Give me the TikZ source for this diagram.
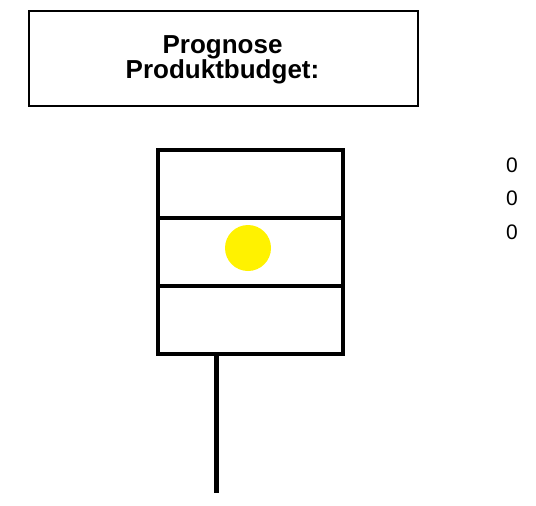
\documentclass[tikz,border=0pt]{standalone}
\usepackage{fontspec}
\setmainfont{Liberation Sans}
\begin{document}
\begin{tikzpicture}[x=1pt,y=-1pt,
  titlebox/.style={draw=black, line width=2pt, fill=white, minimum width=389pt, minimum height=95pt, inner sep=0pt, anchor=north west},
  titletext/.style={align=center, font=\bfseries\fontsize{26}{24}\selectfont, inner sep=0pt},
  cell/.style={draw=black, line width=4.5pt, minimum width=185pt, minimum height=68pt, inner sep=0pt, anchor=north west},
  lamp/.style={circle, fill=yellow, minimum size=46pt, inner sep=0pt},
  stem/.style={line width=5pt},
  val/.style={font=\fontsize{21}{21}\selectfont, inner sep=0pt}]
\useasboundingbox (0,0) rectangle (536,506);
\node[titlebox] (title) at (28,10) {};
\node[titletext] (ttext) at (222.5,60) {Prognose\\Produktbudget:};
\node[cell] (c1) at (155.5,147.5) {};
\node[cell] (c2) at (155.5,215.5) {};
\node[cell] (c3) at (155.5,283.5) {};
\node[lamp] (light) at (248,248) {};
\coordinate (stemend) at (216,493);
\draw[stem] (c3.south -| stemend) -- (stemend);
\node[val] (v1) at (512,165) {0};
\node[val] (v2) at (512,198.5) {0};
\node[val] (v3) at (512,232) {0};
\end{tikzpicture}
\end{document}
